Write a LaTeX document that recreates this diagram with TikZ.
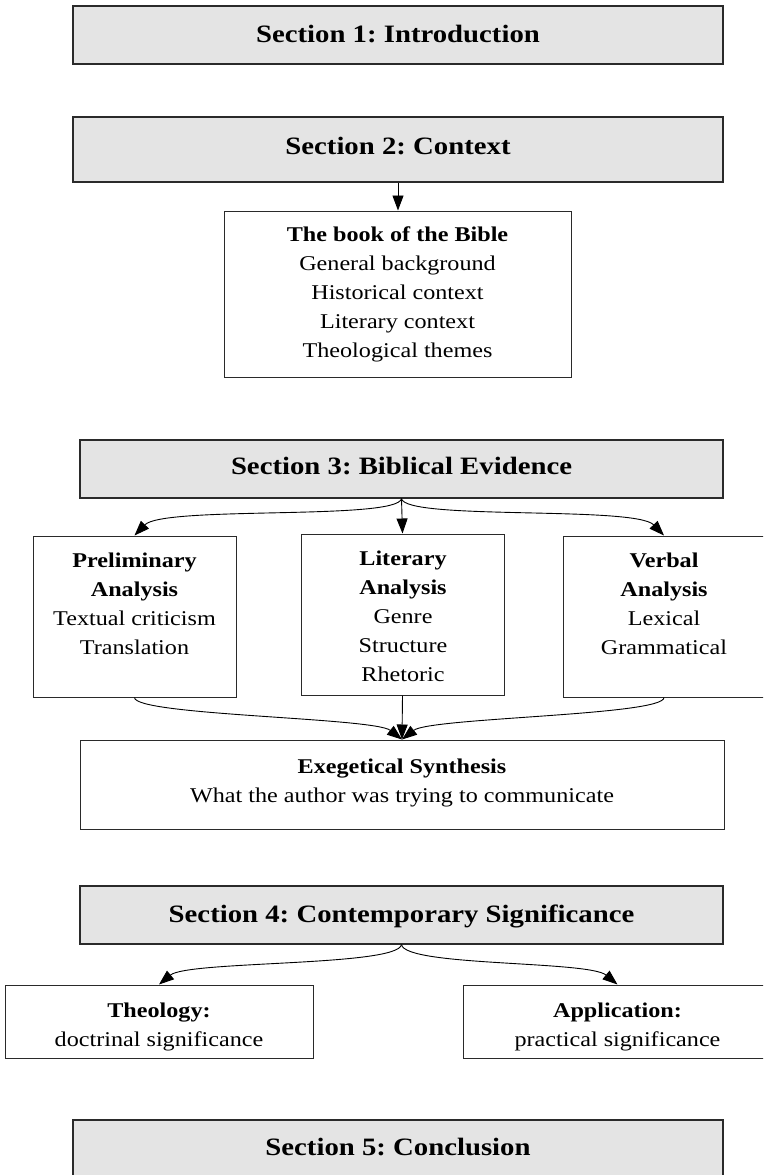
\documentclass[tikz,border=0pt]{standalone}
\usepackage{fontspec}
\setmainfont{Liberation Serif}[FakeStretch=1.15]
\usetikzlibrary{arrows.meta}
\definecolor{secfill}{HTML}{E4E4E4}
\definecolor{edge}{HTML}{2A2A2A}
\frenchspacing
% strut that fixes the height of the first line of a text block
\newcommand\lineone{\rule{0pt}{16pt}}
\begin{document}
\begin{tikzpicture}[x=1pt,y=-1pt,
  section/.style={draw=edge, line width=1.2pt, fill=secfill, inner sep=0pt},
  plainbox/.style={draw=edge, line width=1pt, fill=white, inner sep=0pt},
  headtext/.style={font=\fontsize{25}{30}\selectfont\bfseries, anchor=base, inner sep=0pt},
  bodytext/.style={font=\fontsize{21}{29}\selectfont, align=center, anchor=north, inner sep=0pt},
  link/.style={draw=black, line width=0.9pt, -{Triangle[length=15pt,width=11pt]}},
]
\useasboundingbox (0,0) rectangle (763,1175);
\clip (0,0) rectangle (763,1175);

% boxes
\node[section, minimum width=650pt, minimum height=58pt] (s1) at (398,35) {};
\node[section, minimum width=650pt, minimum height=65pt] (s2) at (398,149.5) {};
\node[plainbox, minimum width=347pt, minimum height=166pt] (book) at (398,294) {};
\node[section, minimum width=643pt, minimum height=58pt] (s3) at (401.5,469) {};
\node[plainbox, minimum width=203pt, minimum height=161pt] (prelim) at (134.5,616.5) {};
\node[plainbox, minimum width=203pt, minimum height=161pt] (literary) at (402.5,614.5) {};
\node[plainbox, minimum width=202pt, minimum height=161pt] (verbal) at (664,616.5) {};
\node[plainbox, minimum width=644pt, minimum height=89pt] (exeg) at (402,784.5) {};
\node[section, minimum width=643pt, minimum height=58pt] (s4) at (401.5,915) {};
\node[plainbox, minimum width=308pt, minimum height=73pt] (theo) at (159,1021.5) {};
\node[plainbox, minimum width=309pt, minimum height=73pt] (appl) at (617.5,1021.5) {};
\node[section, minimum width=650pt, minimum height=60pt] (s5) at (398,1150) {};

% section titles
\node[headtext] (t1) at (398,42) {Section 1: Introduction};
\node[headtext] (t2) at (398,154) {Section 2: Context};
\node[headtext] (t3) at (401.5,474) {Section 3: Biblical Evidence};
\node[headtext] (t4) at (401.5,922) {Section 4: Contemporary Significance};
\node[headtext] (t5) at (398,1155) {Section 5: Conclusion};

% box contents
\node[bodytext] (booktext) at (397.5,225.5) {\lineone\textbf{The book of the Bible}\\General background\\Historical context\\Literary context\\Theological themes};
\node[bodytext] (prelimtext) at (134.5,551) {\lineone\textbf{Preliminary}\\\textbf{Analysis}\\Textual criticism\\Translation};
\node[bodytext] (literarytext) at (403,549) {\lineone\textbf{Literary}\\\textbf{Analysis}\\Genre\\Structure\\Rhetoric};
\node[bodytext] (verbaltext) at (664,551) {\lineone\textbf{Verbal}\\\textbf{Analysis}\\Lexical\\Grammatical};
\node[bodytext] (exegtext) at (402,757) {\lineone\textbf{Exegetical Synthesis}\\What the author was trying to communicate};
\node[bodytext] (theotext) at (159,1001) {\lineone\textbf{Theology:}\\doctrinal significance};
\node[bodytext] (appltext) at (617.5,1001) {\lineone\textbf{Application:}\\practical significance};

% connectors
\draw[link] (s2.south) -- (book.north);
\draw[link] (s3.south) .. controls +(-4,22) and +(29,-30) .. (prelim.north);
\draw[link] (s3.south) -- (literary.north);
\draw[link] (s3.south) .. controls +(4,22) and +(-29,-30) .. (verbal.north);
\draw[link] (prelim.south) .. controls +(0,18) and +(-28,-22) .. (exeg.north);
\draw[link] (literary.south) -- (exeg.north);
\draw[link] (verbal.south) .. controls +(0,18) and +(28,-22) .. (exeg.north);
\draw[link] (s4.south) .. controls +(-4,22) and +(29,-24) .. (theo.north);
\draw[link] (s4.south) .. controls +(4,22) and +(-29,-24) .. (appl.north);
\end{tikzpicture}
\end{document}
